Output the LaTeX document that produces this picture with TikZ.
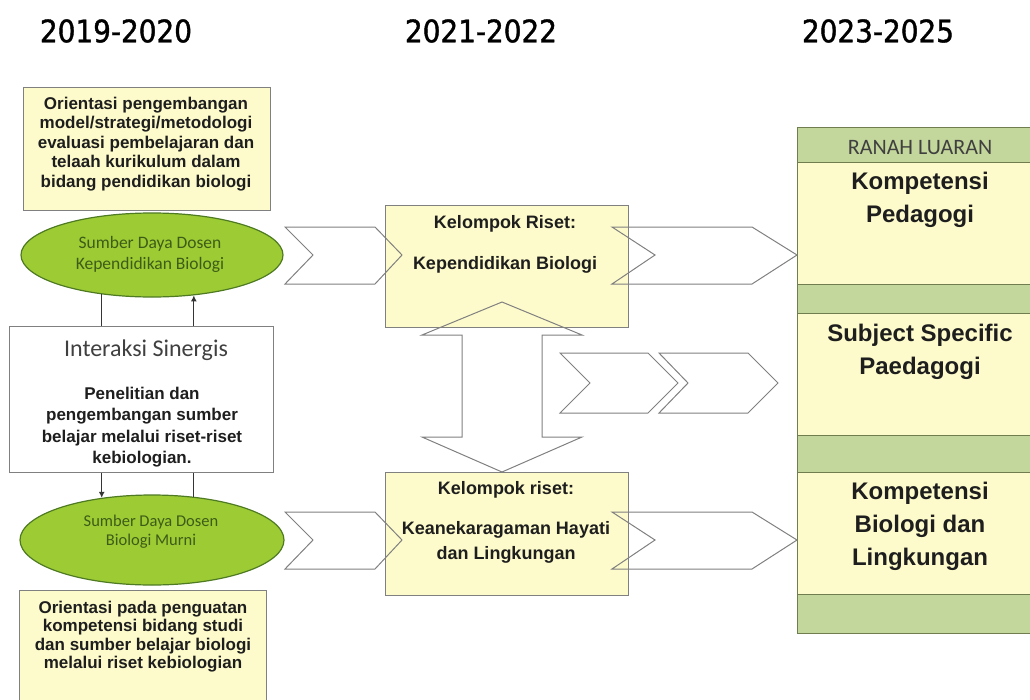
\documentclass[tikz,border=0pt]{standalone}
\usepackage{fontspec}
\setmainfont{Liberation Sans}
\newfontfamily\calib{Carlito}
\newfontfamily\titlef{DejaVu Sans}[FakeStretch=0.9,FakeBold=1.2]
\usetikzlibrary{shapes.geometric,arrows.meta}
\definecolor{boxyellow}{HTML}{FDFBCB}
\definecolor{bandgreen}{HTML}{C3D69B}
\definecolor{ellgreen}{HTML}{9DCB34}
\definecolor{ellborder}{HTML}{4E7A22}
\definecolor{elltext}{HTML}{3D5C18}
\definecolor{grayline}{HTML}{808080}
\definecolor{panelline}{HTML}{6F7D4F}
\definecolor{txtdark}{HTML}{1E1E1E}
\tikzset{
  ybox/.style={draw=grayline, fill=boxyellow, line width=1pt, inner sep=0pt},
  wbox/.style={draw=grayline, fill=white, line width=1pt, inner sep=0pt},
  ell/.style={ellipse, draw=ellborder, fill=ellgreen, line width=1.2pt, inner sep=0pt},
  pyel/.style={draw=panelline, fill=boxyellow, line width=1pt, inner sep=0pt, minimum width=246pt},
  pgrn/.style={draw=panelline, fill=bandgreen, line width=1pt, inner sep=0pt, minimum width=246pt},
  chev/.style={draw=grayline, line width=1pt, line join=miter},
  conn/.style={draw=txtdark!90, line width=1.1pt},
  arr/.style={-{Latex[length=6pt,width=6pt]}},
  ttl/.style={font=\titlef\fontsize{31}{36}\selectfont, text=black, inner sep=0pt},
  btxt/.style={font=\bfseries\fontsize{17}{19.5}\selectfont, align=center, text=txtdark, inner sep=0pt},
  etxt/.style={font=\calib\fontsize{17.5}{21}\selectfont, align=center, text=elltext, inner sep=0pt},
  ktxt/.style={font=\bfseries\fontsize{18}{25}\selectfont, align=center, text=txtdark, inner sep=0pt},
  ptxt/.style={font=\bfseries\fontsize{24}{33}\selectfont, align=center, text=txtdark, inner sep=0pt}
}
\begin{document}
\begin{tikzpicture}[x=1pt,y=-1pt]
\useasboundingbox (0,0) rectangle (1030,699);
\clip (0,0) rectangle (1030,699);

% titles
\node[ttl] (t1) at (116,31) {2019-2020};
\node[ttl] (t2) at (481,31) {2021-2022};
\node[ttl] (t3) at (878,31) {2023-2025};

% left column
\node[ybox, minimum width=247pt, minimum height=123pt] (orient1) at (146.5,148.5) {};
\node[ell, minimum width=262pt, minimum height=84pt] (ell1) at (152,255) {};
\node[wbox, minimum width=264pt, minimum height=146pt] (inter) at (141,399) {};
\node[ell, minimum width=264pt, minimum height=90pt] (ell2) at (152,540) {};
\node[ybox, minimum width=247pt, minimum height=130pt] (orient2) at (142.5,655) {};

% middle boxes
\node[ybox, minimum width=243pt, minimum height=122pt] (kra) at (506.5,266) {};
\node[ybox, minimum width=243pt, minimum height=123pt] (krb) at (506.5,533.5) {};

% right column
\node[pgrn, minimum height=35pt] (head) at (920,144.5) {};
\node[pyel, minimum height=122pt] (p1) at (920,223) {};
\node[pgrn, minimum height=29pt] (g1) at (920,298.5) {};
\node[pyel, minimum height=122pt] (p2) at (920,374) {};
\node[pgrn, minimum height=37pt] (g2) at (920,453.5) {};
\node[pyel, minimum height=122pt] (p3) at (920,533) {};
\node[pgrn, minimum height=39pt] (g3) at (920,613.5) {};

% connectors between ellipses and interaction box
\draw[conn] (ell1.218) -- (ell1.218 |- inter.north);
\draw[conn,arr] (ell1.316 |- inter.north) -- (ell1.316);
\draw[conn,arr] (ell2.140 |- inter.south) -- (ell2.140);
\draw[conn] (ell2.46) -- (ell2.46 |- inter.south);

% chevrons
\draw[chev] (285,227) -- (375,227) -- (402,255) -- (375,284) -- (285,284) -- (313,255) -- cycle;
\draw[chev] (285,512) -- (375,512) -- (402,540) -- (375,569) -- (285,569) -- (313,540) -- cycle;
\draw[chev] (612,227) -- (752,227) -- (797,255) -- (752,284) -- (612,284) -- (655,255) -- cycle;
\draw[chev] (612,512) -- (752,512) -- (797,540) -- (752,569) -- (612,569) -- (655,540) -- cycle;
\draw[chev] (560,353) -- (648,353) -- (678,383) -- (648,413) -- (560,413) -- (590,383) -- cycle;
\draw[chev] (659,353) -- (748,353) -- (778,383) -- (748,413) -- (659,413) -- (688,383) -- cycle;

% double vertical arrow
\draw[chev] (502,302) -- (582,335) -- (542,335) -- (542,437) -- (582,437) -- (502,472)
  -- (422,437) -- (462,437) -- (462,335) -- (422,335) -- cycle;

% texts
\node[btxt] (o1txt) at (146,144) {Orientasi pengembangan\\model/strategi/metodologi\\evaluasi pembelajaran dan\\telaah kurikulum dalam\\bidang pendidikan biologi};
\node[etxt] (e1txt) at (150,254) {Sumber Daya Dosen\\Kependidikan Biologi};
\node[font=\calib\fontsize{24}{28}\selectfont, text=black!75, inner sep=0pt] (intitle) at (146,350) {Interaksi Sinergis};
\node[btxt, font=\bfseries\fontsize{17}{21.5}\selectfont] (intxt) at (142,427) {Penelitian dan\\pengembangan sumber\\belajar melalui riset-riset\\kebiologian.};
\node[etxt, font=\calib\fontsize{16.5}{19}\selectfont] (e2txt) at (151,532) {Sumber Daya Dosen\\Biologi Murni};
\node[btxt, font=\bfseries\fontsize{17}{18.3}\selectfont] (o2txt) at (143,636.5) {Orientasi pada penguatan\\kompetensi bidang studi\\dan sumber belajar biologi\\melalui riset kebiologian};

\node[ktxt, font=\bfseries\fontsize{18}{41}\selectfont] (katxt) at (505,244.5) {Kelompok Riset:\\Kependidikan Biologi};
\node[ktxt] (kbtxt1) at (506,490) {Kelompok riset:};
\node[ktxt] (kbtxt2) at (506,542.5) {Keanekaragaman Hayati\\dan Lingkungan};

\node[font=\calib\fontsize{22}{26}\selectfont, text=black!75, inner sep=0pt] (headtxt) at (920,148) {RANAH LUARAN};
\node[ptxt] (p1txt) at (920,200) {Kompetensi\\Pedagogi};
\node[ptxt] (p2txt) at (920,351.5) {Subject Specific\\Paedagogi};
\node[ptxt] (p3txt) at (920,526) {Kompetensi\\Biologi dan\\Lingkungan};
\end{tikzpicture}
\end{document}
